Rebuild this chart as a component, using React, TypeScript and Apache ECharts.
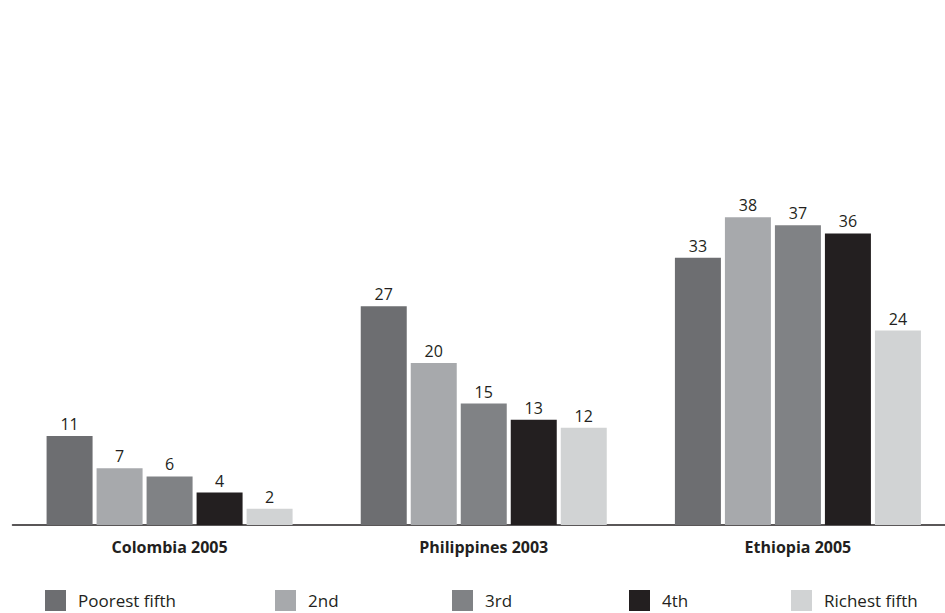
import React, { useEffect, useRef } from "react";
import * as echarts from "echarts";

// Survey groups and wealth quintiles
const countries = ["Colombia 2005", "Philippines 2003", "Ethiopia 2005"];
const quintiles = ["Poorest fifth", "2nd", "3rd", "4th", "Richest fifth"];

const poorestFifth = [11, 27, 33];
const second = [7, 20, 38];
const third = [6, 15, 37];
const fourth = [4, 13, 36];
const richestFifth = [2, 12, 24];

const seriesValues = [poorestFifth, second, third, fourth, richestFifth];
const colors = ["#6d6e71", "#a7a9ac", "#808285", "#231f20", "#d1d3d4"];
const legendLeft = [45, 275, 452, 629, 791];

const FONT = "'Open Sans', 'Noto Sans', sans-serif";

export default function App() {
  const ref = useRef<HTMLDivElement>(null);

  useEffect(() => {
    if (!ref.current) return;
    const chart = echarts.init(ref.current, undefined, { renderer: "svg" });

    chart.setOption({
      animation: false,
      backgroundColor: "#ffffff",
      textStyle: { fontFamily: FONT },
      grid: { left: 12.5, right: 0, top: 120, bottom: 88, containLabel: false },
      legend: quintiles.map((q, i) => ({
        data: [q],
        left: legendLeft[i],
        top: 590,
        itemWidth: 21,
        itemHeight: 21,
        padding: 0,
        selectedMode: false,
        icon: "rect",
        textStyle: {
          fontFamily: FONT,
          fontSize: 17,
          color: "#231f20",
          padding: [0, 0, 0, 7],
        },
      })),
      xAxis: {
        type: "category",
        data: countries,
        axisLine: { lineStyle: { color: "#231f20", width: 1.5 } },
        axisTick: { show: false },
        axisLabel: {
          fontFamily: FONT,
          fontSize: 16,
          fontWeight: "bold",
          color: "#231f20",
          margin: 14,
        },
      },
      yAxis: {
        type: "value",
        min: 0,
        max: 50,
        show: false,
        splitLine: { show: false },
      },
      series: quintiles.map((q, i) => ({
        name: q,
        type: "bar",
        data: seriesValues[i],
        barWidth: 46,
        barGap: "8.7%",
        itemStyle: { color: colors[i] },
        label: {
          show: true,
          position: "top",
          distance: 4,
          fontFamily: FONT,
          fontSize: 16,
          color: "#231f20",
        },
      })),
    });

    return () => chart.dispose();
  }, []);

  // The chart canvas runs slightly past the visible frame on the right,
  // so the three groups are evenly spaced with the last one near the edge.
  return (
    <div style={{ position: "absolute", left: 0, top: 0, width: 945, height: 613, overflow: "hidden", background: "#fff" }}>
      <div ref={ref} style={{ width: 955, height: 613 }} />
    </div>
  );
}
